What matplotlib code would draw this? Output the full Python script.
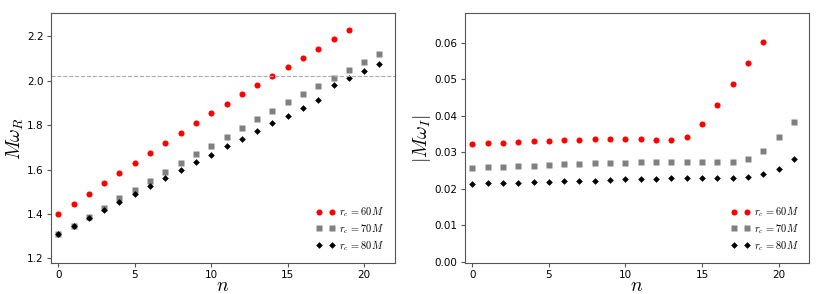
import matplotlib
matplotlib.use("Agg")
import matplotlib.pyplot as plt

plt.rcParams["mathtext.fontset"] = "cm"

n60 = list(range(20))
n70 = list(range(22))
n80 = list(range(22))

wr60 = [1.401, 1.447, 1.492, 1.539, 1.584, 1.630, 1.675, 1.720, 1.765, 1.809,
        1.854, 1.896, 1.939, 1.981, 2.020, 2.061, 2.101, 2.143, 2.185, 2.228]
wr70 = [1.308, 1.348, 1.388, 1.428, 1.470, 1.510, 1.549, 1.590, 1.629, 1.668,
        1.708, 1.747, 1.786, 1.827, 1.864, 1.903, 1.939, 1.977, 2.013, 2.049,
        2.083, 2.121]
wr80 = [1.308, 1.347, 1.383, 1.419, 1.453, 1.491, 1.525, 1.561, 1.597, 1.632,
        1.666, 1.704, 1.738, 1.773, 1.809, 1.843, 1.878, 1.912, 1.978, 2.010,
        2.044, 2.076]

wi60 = [0.0323, 0.0325, 0.0326, 0.0328, 0.0330, 0.0332, 0.0334, 0.0335, 0.0336, 0.0336,
        0.0336, 0.0336, 0.0334, 0.0333, 0.0343, 0.0378, 0.0430, 0.0487, 0.0544, 0.0601]
wi70 = [0.0258, 0.0259, 0.0261, 0.0263, 0.0264, 0.0265, 0.0267, 0.0268, 0.0270, 0.0271,
        0.0272, 0.0273, 0.0274, 0.0275, 0.0275, 0.0275, 0.0274, 0.0275, 0.0283, 0.0305,
        0.0341, 0.0383]
wi80 = [0.0213, 0.0215, 0.0216, 0.0217, 0.0218, 0.0219, 0.0221, 0.0223, 0.0223, 0.0224,
        0.0226, 0.0227, 0.0228, 0.0229, 0.0230, 0.0230, 0.0231, 0.0231, 0.0233, 0.0240,
        0.0255, 0.0282]

hline = 2.02

fig = plt.figure(figsize=(8.31, 2.94), dpi=100)
ax1 = fig.add_axes([0.061, 0.105, 0.414, 0.850])
ax2 = fig.add_axes([0.559, 0.105, 0.415, 0.850])


def series(ax, a, b, c):
    ax.plot(n60, a, "o", color="red", ms=4.4, mec="none", label=r"$r_c\,=60M$")
    ax.plot(n70, b, "s", color="gray", ms=4.0, mec="none", label=r"$r_c\,=70M$")
    ax.plot(n80, c, "D", color="black", ms=3.4, mec="none", label=r"$r_c\,=80M$")
    ax.set_xlim(-0.5, 22)
    ax.set_xticks([0, 5, 10, 15, 20])
    ax.set_xlabel(r"$n$", fontsize=14, labelpad=-3)
    ax.tick_params(labelsize=7.5, length=3, pad=2, color="#555555", top=False, right=False)
    for s in ax.spines.values():
        s.set_color("#555555")
    ax.legend(loc="lower right", frameon=False, numpoints=2, fontsize=7.5,
              handlelength=1.85, handletextpad=0.4, borderaxespad=0.6,
              labelspacing=0.3)


series(ax1, wr60, wr70, wr80)
ax1.axhline(hline, color="#aaaaaa", ls="--", lw=0.8)
ax1.set_ylim(1.179, 2.303)
ax1.set_yticks([1.2, 1.4, 1.6, 1.8, 2.0, 2.2])
ax1.set_ylabel(r"$M\omega_R$", fontsize=14, labelpad=1)

series(ax2, wi60, wi70, wi80)
ax2.set_ylim(-0.0003, 0.0681)
ax2.set_yticks([0.0, 0.01, 0.02, 0.03, 0.04, 0.05, 0.06])
ax2.set_yticklabels(["0.00", "0.01", "0.02", "0.03", "0.04", "0.05", "0.06"])
ax2.set_ylabel(r"$|M\omega_I|$", fontsize=14, labelpad=1)

fig.savefig("out.png", dpi=100)
